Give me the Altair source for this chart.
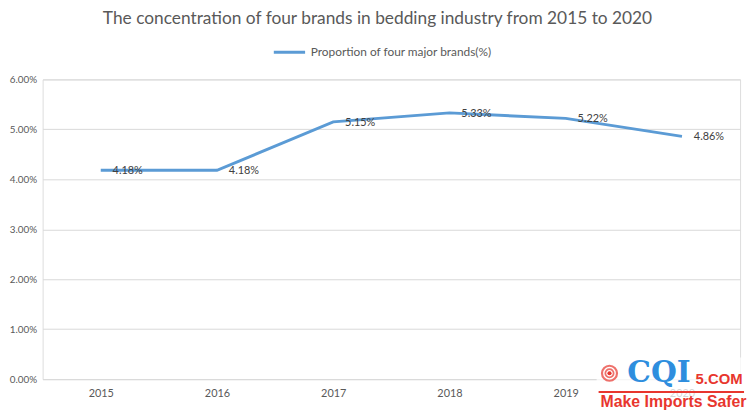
import altair as alt
import pandas as pd

years = ["2015", "2016", "2017", "2018", "2019", "2020"]
values = [4.18, 4.18, 5.15, 5.33, 5.22, 4.86]
series = "Proportion of four major brands(%)"
title_text = "The concentration of four brands in bedding industry from 2015 to 2020"

df = pd.DataFrame({
    "year": years,
    "value": [v / 100 for v in values],
    "label": [f"{v:.2f}%" for v in values],
    "series": [series] * len(years),
})

FONT = "Lato"
BLUE = "#5b9bd5"

x = alt.X("year:N", scale=alt.Scale(type="point", padding=0.5),
          axis=alt.Axis(title=None, labelAngle=0, ticks=False, domain=False,
                        labelPadding=9, labelFontSize=11, labelColor="#595959",
                        labelFont=FONT, grid=False))
y = alt.Y("value:Q", scale=alt.Scale(domain=[0, 0.06], nice=False),
          axis=alt.Axis(title=None, format=".2%", values=[0, 0.01, 0.02, 0.03, 0.04, 0.05, 0.06],
                        ticks=False, domain=False, labelPadding=6, labelFontSize=10,
                        labelColor="#595959", labelFont=FONT, gridColor="#d9d9d9",
                        gridWidth=1))

line = alt.Chart(df).mark_line(strokeWidth=3).encode(
    x=x, y=y,
    color=alt.Color("series:N", scale=alt.Scale(range=[BLUE]),
                    legend=alt.Legend(title=None, orient="none", legendX=232, legendY=-45,
                                      symbolType="stroke", symbolSize=1000,
                                      symbolStrokeWidth=3, labelFontSize=12,
                                      labelLimit=400,
                                      labelColor="#595959", labelFont=FONT)),
)

labels = alt.Chart(df).mark_text(align="left", baseline="middle", dx=12, dy=1,
                                 fontSize=11, color="#404040", font=FONT).encode(
    x=x, y=y, text="label:N")

one = alt.Data(values=[{}])
logo_bg = alt.Chart(one).mark_rect(color="white", opacity=0.75).encode(
    x=alt.value(560), x2=alt.value(712), y=alt.value(281), y2=alt.value(335))
ring1 = alt.Chart(one).mark_point(shape="circle", filled=False, color="#e8362e",
                                  strokeWidth=2.2, size=230).encode(
    x=alt.value(573), y=alt.value(297))
ring2 = alt.Chart(one).mark_point(shape="circle", filled=False, color="#e8362e",
                                  strokeWidth=1.8, size=70).encode(
    x=alt.value(573), y=alt.value(297))
dot = alt.Chart(one).mark_point(shape="circle", filled=True, color="#e8362e",
                                opacity=1, size=18).encode(
    x=alt.value(573), y=alt.value(297))
cqi = alt.Chart(one).mark_text(text="CQI", align="left", baseline="alphabetic",
                               font="DejaVu Serif", fontWeight="bold", fontSize=30,
                               color="#2e8ede").encode(
    x=alt.value(591), y=alt.value(306))
com = alt.Chart(one).mark_text(text="5.COM", align="left", baseline="alphabetic",
                               font="Liberation Sans", fontWeight="bold", fontSize=15,
                               color="#e8362e").encode(
    x=alt.value(660), y=alt.value(308))
rline = alt.Chart(one).mark_rule(color="#e8362e", strokeWidth=2).encode(
    x=alt.value(562), x2=alt.value(709), y=alt.value(316))
safer = alt.Chart(one).mark_text(text="Make Imports Safer", align="left",
                                 baseline="alphabetic", font="Liberation Sans",
                                 fontWeight="bold", fontSize=16, color="#e8362e").encode(
    x=alt.value(564), y=alt.value(331))

chart = alt.layer(line, labels, logo_bg, ring1, ring2, dot, cqi, com, rline, safer).properties(
    width=705, height=303,
    autosize=alt.AutoSizeParams(type="none"),
    padding={"left": 35, "top": 70, "right": 7, "bottom": 30},
    title=alt.TitleParams(title_text, anchor="middle", dx=-14, offset=8, fontSize=17.5,
                          font=FONT, fontWeight="normal", color="#595959"),
).configure_view(stroke=None).configure(background="white")

chart.save("out.html", embed_options={"renderer": "svg", "actions": False})
